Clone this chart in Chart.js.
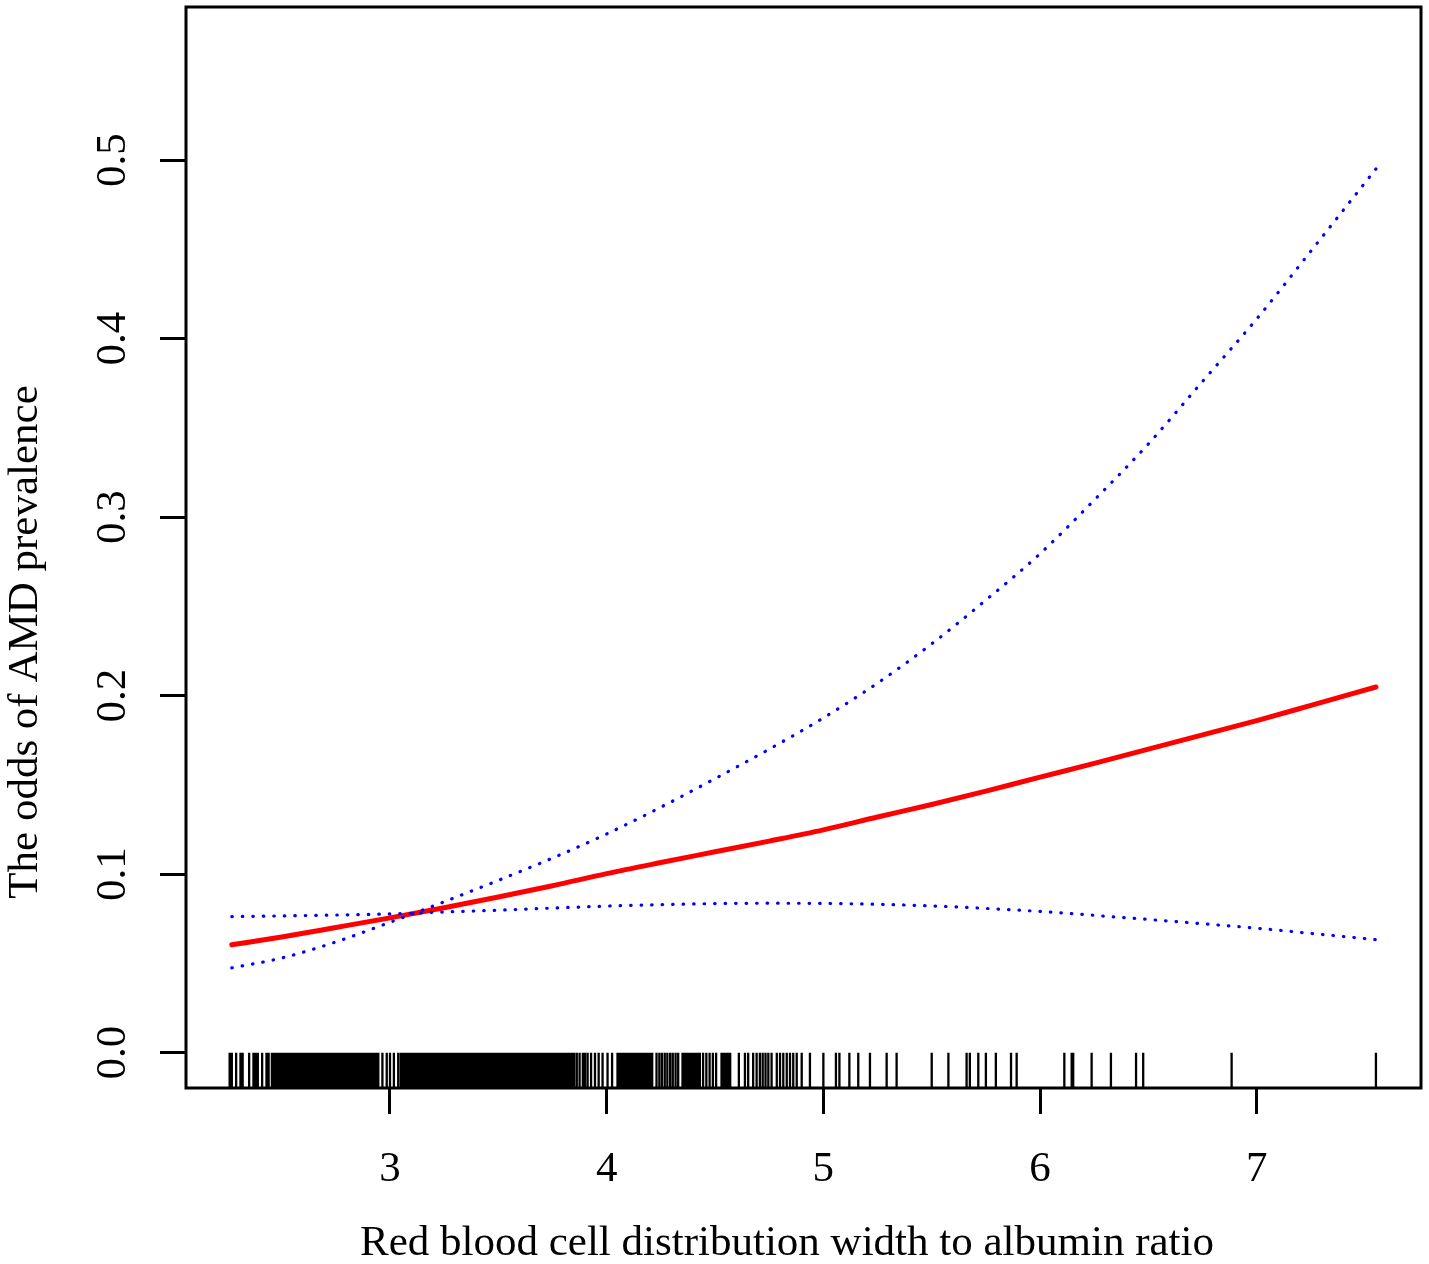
<!DOCTYPE html>
<html lang="en">
<head>
    <meta charset="UTF-8">
    <title>RDW/albumin ratio and AMD</title>
    <style>
        body { margin: 0; background: #fff; }
        #wrap { width: 1429px; height: 1264px; }
    </style>
</head>
<body>
    <div id="wrap"><canvas id="myChart"></canvas></div>
    <script src="https://cdn.jsdelivr.net/npm/chart.js"></script>
    <script>
        // x positions of the fitted curve
        const xValues = [2.27, 2.5, 2.75, 3.0, 3.25, 3.5, 3.75, 4.0, 4.25, 4.5, 4.75, 5.0, 5.25, 5.5, 5.75, 6.0, 6.25, 6.5, 6.75, 7.0, 7.25, 7.55];
        // fitted odds (red)
        const fitValues = [0.0604, 0.0648, 0.0701, 0.0755, 0.0812, 0.0872, 0.0935, 0.1003, 0.1065, 0.1125, 0.1185, 0.1248, 0.1320, 0.1390, 0.1465, 0.1543, 0.1620, 0.1700, 0.1780, 0.1860, 0.1945, 0.2048];
        // 95% CI (blue dotted)
        const upperValues = [0.0475, 0.0530, 0.0620, 0.0730, 0.0845, 0.0965, 0.1090, 0.1225, 0.1375, 0.1535, 0.1700, 0.1875, 0.2070, 0.2290, 0.2535, 0.2795, 0.3095, 0.3410, 0.3760, 0.4110, 0.4490, 0.4950];
        const lowerValues = [0.0762, 0.0766, 0.0771, 0.0777, 0.0788, 0.0798, 0.0810, 0.0821, 0.0829, 0.0835, 0.0837, 0.0836, 0.0831, 0.0822, 0.0808, 0.0791, 0.0769, 0.0746, 0.0722, 0.0697, 0.0668, 0.0633];
        // rug (observed values of the ratio)
        const rugValues = [
            2.26, 2.27, 2.29, 2.31, 2.32, 2.35, 2.37, 2.38, 2.39, 2.41, 2.43, 2.44, 2.455,
            2.46, 2.47, 2.48, 2.49, 2.50, 2.51, 2.52, 2.53, 2.54, 2.55, 2.56, 2.57, 2.58, 2.59,
            2.60, 2.61, 2.62, 2.63, 2.64, 2.65, 2.66, 2.67, 2.68, 2.69, 2.70, 2.71, 2.72, 2.73,
            2.74, 2.75, 2.76, 2.77, 2.78, 2.79, 2.80, 2.81, 2.82, 2.83, 2.84, 2.85, 2.86, 2.87,
            2.88, 2.89, 2.90, 2.91, 2.92, 2.93, 2.94,
            2.946, 2.965, 2.985, 3.0, 3.018, 3.038,
            3.05, 3.06, 3.07, 3.08, 3.09, 3.10, 3.11, 3.12, 3.13, 3.14, 3.15, 3.16, 3.17, 3.18,
            3.19, 3.20, 3.21, 3.22, 3.23, 3.24, 3.25, 3.26, 3.27, 3.28, 3.29, 3.30, 3.31, 3.32,
            3.33, 3.34, 3.35, 3.36, 3.37, 3.38, 3.39, 3.40, 3.41, 3.42, 3.43, 3.44, 3.45, 3.46,
            3.47, 3.48, 3.49, 3.50, 3.51, 3.52, 3.53, 3.54, 3.55, 3.56, 3.57, 3.58, 3.59, 3.60,
            3.61, 3.62, 3.63, 3.64, 3.65, 3.66, 3.67, 3.68, 3.69, 3.70, 3.71, 3.72, 3.73, 3.74,
            3.75, 3.76, 3.77, 3.78, 3.79, 3.80, 3.81, 3.82, 3.83, 3.84,
            3.85, 3.862, 3.875, 3.89, 3.90, 3.912, 3.928, 3.946, 3.963, 3.981, 4.004, 4.025,
            4.05, 4.06, 4.07, 4.08, 4.09, 4.10, 4.11, 4.12, 4.13, 4.14, 4.15, 4.16, 4.17, 4.18,
            4.19, 4.20, 4.21,
            4.23, 4.243, 4.255, 4.268, 4.28, 4.293, 4.305, 4.318, 4.33,
            4.35, 4.36, 4.37, 4.38, 4.39, 4.40, 4.41, 4.42, 4.43,
            4.445, 4.46, 4.475, 4.49, 4.505,
            4.53, 4.54, 4.55, 4.56, 4.57,
            4.61, 4.638, 4.653, 4.676, 4.692, 4.707, 4.72, 4.733, 4.746, 4.761, 4.785, 4.80,
            4.815, 4.831, 4.846, 4.861, 4.877, 4.90, 4.938, 5.0, 5.058, 5.074, 5.12, 5.161,
            5.215, 5.292, 5.338, 5.50, 5.577, 5.661, 5.676, 5.715, 5.75, 5.796, 5.866, 5.892,
            6.112, 6.146, 6.153, 6.238, 6.327, 6.443, 6.476, 6.884, 7.55
        ];
        const xTicks = [3, 4, 5, 6, 7];
        const yTicks = [0, 0.1, 0.2, 0.3, 0.4, 0.5];
        const xTitle = 'Red blood cell distribution width to albumin ratio';
        const yTitle = 'The odds of AMD prevalence';

        const serif = 'Liberation Serif';

        function points(ys) {
            return xValues.map(function (x, i) { return { x: x, y: ys[i] }; });
        }

        // rug ticks + box + axis titles
        const rPlot = {
            id: 'rPlot',
            beforeDatasetsDraw: function (chart) {
                const ctx = chart.ctx;
                const xs = chart.scales.x;
                const y0 = chart.scales.y.getPixelForValue(0);
                const yb = chart.chartArea.bottom;
                ctx.save();
                ctx.strokeStyle = '#000';
                ctx.lineWidth = 2.3;
                ctx.beginPath();
                rugValues.forEach(function (v) {
                    const px = xs.getPixelForValue(v);
                    ctx.moveTo(px, y0);
                    ctx.lineTo(px, yb);
                });
                ctx.stroke();
                ctx.restore();
            },
            afterDraw: function (chart) {
                const ctx = chart.ctx;
                const a = chart.chartArea;
                ctx.save();
                ctx.strokeStyle = '#000';
                ctx.lineWidth = 3;
                ctx.strokeRect(a.left, a.top, a.right - a.left, a.bottom - a.top);
                ctx.fillStyle = '#000';
                ctx.font = '43px "' + serif + '"';
                ctx.textAlign = 'center';
                ctx.textBaseline = 'alphabetic';
                ctx.fillText(xTitle, 787, 1255);
                ctx.translate(37, 642);
                ctx.rotate(-Math.PI / 2);
                ctx.fillText(yTitle, 0, 0);
                ctx.restore();
            }
        };

        const ctx = document.getElementById('myChart');
        const chart = new Chart(ctx, {
            type: 'line',
            data: {
                datasets: [{
                    label: 'upper',
                    data: points(upperValues),
                    borderColor: '#0000FF',
                    borderWidth: 3.2,
                    borderDash: [0.5, 10],
                    borderCapStyle: 'round',
                    pointRadius: 0,
                    cubicInterpolationMode: 'monotone'
                }, {
                    label: 'lower',
                    data: points(lowerValues),
                    borderColor: '#0000FF',
                    borderWidth: 3.2,
                    borderDash: [0.5, 10],
                    borderCapStyle: 'round',
                    pointRadius: 0,
                    cubicInterpolationMode: 'monotone'
                }, {
                    label: 'fit',
                    data: points(fitValues),
                    borderColor: '#FF0000',
                    borderWidth: 5,
                    borderCapStyle: 'round',
                    pointRadius: 0,
                    cubicInterpolationMode: 'monotone'
                }]
            },
            options: {
                responsive: true,
                maintainAspectRatio: false,
                animation: false,
                layout: { padding: { top: 7, right: 8, left: 0, bottom: 0 } },
                plugins: {
                    legend: { display: false },
                    tooltip: { enabled: false }
                },
                scales: {
                    x: {
                        type: 'linear',
                        min: 2.0586,
                        max: 7.758,
                        afterBuildTicks: function (s) { s.ticks = xTicks.map(function (v) { return { value: v }; }); },
                        afterFit: function (s) { s.height = 176; s.paddingLeft = 0; s.paddingRight = 0; },
                        grid: { drawOnChartArea: false, drawTicks: true, tickLength: 26, tickWidth: 3, tickColor: '#000' },
                        border: { display: false },
                        ticks: {
                            color: '#000',
                            padding: 30,
                            maxRotation: 0,
                            font: { family: serif, size: 43 }
                        }
                    },
                    y: {
                        type: 'linear',
                        min: -0.0198,
                        max: 0.5857,
                        afterBuildTicks: function (s) { s.ticks = yTicks.map(function (v) { return { value: v }; }); },
                        afterFit: function (s) { s.width = 186; s.paddingTop = 0; s.paddingBottom = 0; },
                        grid: { drawOnChartArea: false, drawTicks: true, tickLength: 26, tickWidth: 3, tickColor: '#000' },
                        border: { display: false },
                        ticks: {
                            color: '#000',
                            padding: 19,
                            minRotation: 90,
                            maxRotation: 90,
                            crossAlign: 'center',
                            font: { family: serif, size: 43 },
                            callback: function (v) { return v.toFixed(1); }
                        }
                    }
                }
            },
            plugins: [rPlot]
        });
    </script>
</body>
</html>
